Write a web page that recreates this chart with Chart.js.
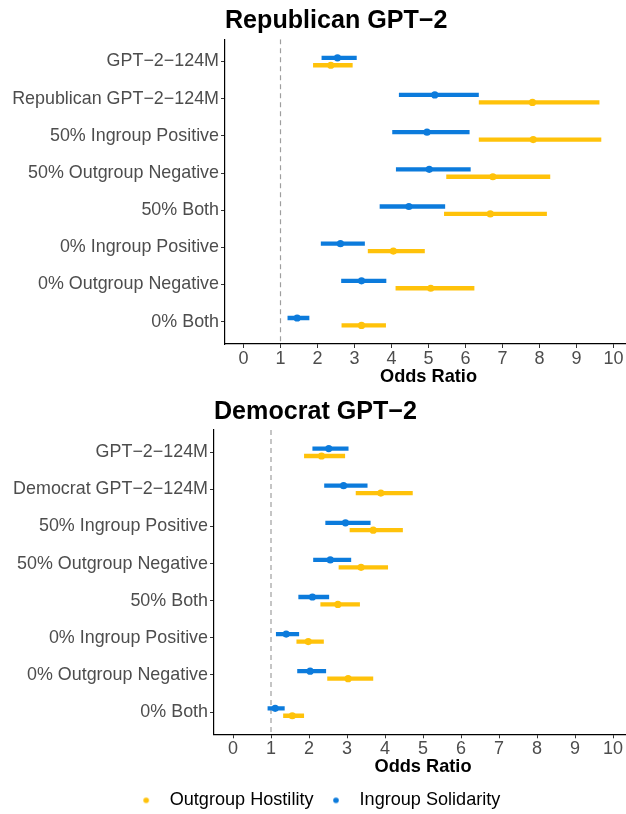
<!DOCTYPE html>
<html>
<head>
<meta charset="utf-8">
<script src="https://cdn.jsdelivr.net/npm/chart.js@4.4.0/dist/chart.umd.min.js"></script>
<style>
  html, body { margin: 0; padding: 0; background: #fff; overflow: hidden; }
  #rep { position: absolute; left: 0; top: 0; }
  #dem { position: absolute; left: 0; top: 393px; }
</style>
</head>
<body>
<canvas id="rep" width="632" height="393"></canvas>
<canvas id="dem" width="632" height="421"></canvas>
<script>
// categories (top to bottom)
const repCats = ["GPT−2−124M", "Republican GPT−2−124M", "50% Ingroup Positive", "50% Outgroup Negative",
                 "50% Both", "0% Ingroup Positive", "0% Outgroup Negative", "0% Both"];
const demCats = ["GPT−2−124M", "Democrat GPT−2−124M", "50% Ingroup Positive", "50% Outgroup Negative",
                 "50% Both", "0% Ingroup Positive", "0% Outgroup Negative", "0% Both"];

// Republican GPT-2 : odds ratio, lower and upper bound
const repSolid   = [2.54, 5.17, 4.96, 5.02, 4.47, 2.62, 3.19, 1.45];
const repSolidLo = [2.11, 4.20, 4.02, 4.12, 3.68, 2.09, 2.64, 1.19];
const repSolidHi = [3.06, 6.36, 6.11, 6.14, 5.45, 3.28, 3.86, 1.78];
const repHost    = [2.36, 7.81, 7.83, 6.74, 6.67, 4.05, 5.06, 3.19];
const repHostLo  = [1.88, 6.36, 6.36, 5.48, 5.42, 3.36, 4.11, 2.65];
const repHostHi  = [2.95, 9.62, 9.67, 8.29, 8.20, 4.90, 6.24, 3.85];

// Democrat GPT-2
const demSolid   = [2.52, 2.91, 2.96, 2.56, 2.09, 1.40, 2.03, 1.11];
const demSolidLo = [2.09, 2.40, 2.43, 2.11, 1.72, 1.13, 1.69, 0.91];
const demSolidHi = [3.04, 3.54, 3.62, 3.11, 2.53, 1.74, 2.45, 1.36];
const demHost    = [2.33, 3.89, 3.69, 3.37, 2.76, 1.98, 3.03, 1.56];
const demHostLo  = [1.87, 3.23, 3.07, 2.78, 2.30, 1.67, 2.48, 1.32];
const demHostHi  = [2.95, 4.73, 4.47, 4.08, 3.34, 2.39, 3.69, 1.87];

const xTicks = [0, 1, 2, 3, 4, 5, 6, 7, 8, 9, 10];
const refLine = 1;

const YELLOW = "#FFC20A";
const BLUE = "#0C7BDC";

Chart.defaults.font.family = "'Liberation Sans', Arial, sans-serif";
Chart.defaults.color = "#4D4D4D";

// small round marker for the legend, so the gap to the text can be wider
function dot(color) {
  const c = document.createElement("canvas");
  c.width = 8; c.height = 8;
  const g = c.getContext("2d");
  g.fillStyle = color;
  g.beginPath(); g.arc(4, 4, 2.8, 0, Math.PI * 2); g.fill();
  return c;
}

function makeChart(id, title, cats, host, hostLo, hostHi, solid, solidLo, solidHi, axisW, titlePad, legend) {
  const groups = [
    { label: "Outgroup Hostility", color: YELLOW, est: host, lo: hostLo, hi: hostHi, off: 0.1 },
    { label: "Ingroup Solidarity", color: BLUE, est: solid, lo: solidLo, hi: solidHi, off: -0.1 }
  ];
  const datasets = [];
  groups.forEach(g => {
    datasets.push({
      label: g.label,
      data: g.est.map((v, i) => ({ x: v, y: i + g.off })),
      backgroundColor: g.color, borderColor: g.color, borderWidth: 0,
      pointRadius: 3.6, order: 1
    });
  });
  groups.forEach(g => {
    cats.forEach((c, i) => {
      datasets.push({
        label: "",
        data: [{ x: g.lo[i], y: i + g.off }, { x: g.hi[i], y: i + g.off }],
        showLine: true, borderColor: g.color, borderWidth: 4.3, pointRadius: 0,
        borderCapStyle: "butt", order: 2
      });
    });
  });
  datasets.push({
    label: "",
    data: [{ x: refLine, y: -0.6 }, { x: refLine, y: cats.length - 0.4 }],
    showLine: true, borderColor: "#9E9E9E", borderWidth: 1.2, borderDash: [5, 4],
    pointRadius: 0, order: 3
  });

  const axisH = legend ? 49 : 44;

  return new Chart(document.getElementById(id), {
    type: "scatter",
    data: { datasets },
    options: {
      responsive: false,
      animation: false,
      events: [],
      layout: { autoPadding: false, padding: { bottom: legend ? 0 : 5 } },
      scales: {
        x: {
          min: -0.5, max: 10.5,
          afterBuildTicks: s => { s.ticks = xTicks.map(v => ({ value: v })); },
          afterFit: s => { s.height = axisH; },
          ticks: { font: { size: 18 }, color: "#4D4D4D", padding: 0, callback: v => String(v) },
          grid: { drawOnChartArea: false, tickLength: 4, color: "#333" },
          border: { display: true, color: "#000", width: 1.2 },
          title: { display: true, text: "Odds Ratio", color: "#000",
                   font: { size: 18.2, weight: "bold" }, padding: { top: 0, bottom: axisH - 43.6 } }
        },
        y: {
          min: -0.6, max: cats.length - 0.4, reverse: true,
          afterBuildTicks: s => { s.ticks = cats.map((c, i) => ({ value: i })); },
          afterFit: s => { s.width = axisW; },
          ticks: { font: { size: 17.9 }, color: "#4D4D4D", padding: 2, autoSkip: false,
                   callback: v => cats[v] },
          grid: { drawOnChartArea: false, tickLength: 4, color: "#333" },
          border: { display: true, color: "#000", width: 1.2 }
        }
      },
      plugins: {
        tooltip: { enabled: false },
        title: {
          display: true, text: title, align: "start", fullSize: false, color: "#000",
          font: { size: 25.1, weight: "bold" }, padding: titlePad
        },
        legend: {
          display: legend, position: "bottom", maxHeight: 30.7,
          labels: {
            generateLabels: ch => Chart.defaults.plugins.legend.labels.generateLabels(ch)
              .filter(it => !!it.text)
              .map(it => Object.assign(it, { pointStyle: dot(it.fillStyle) })),
            usePointStyle: true, pointStyleWidth: 29, boxHeight: 8,
            color: "#000", font: { size: 18.1 }, padding: 8
          }
        }
      }
    }
  });
}

makeChart("rep", "Republican GPT−2", repCats, repHost, repHostLo, repHostHi,
          repSolid, repSolidLo, repSolidHi, 225, { top: 6, bottom: 3.1 }, false);
makeChart("dem", "Democrat GPT−2", demCats, demHost, demHostLo, demHostHi,
          demSolid, demSolidLo, demSolidHi, 214, { top: 3.8, bottom: 3.1 }, true);
</script>
</body>
</html>
